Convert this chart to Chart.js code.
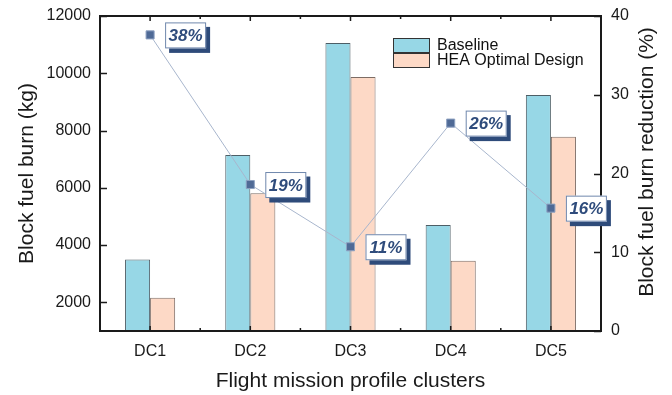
<!DOCTYPE html>
<html lang="en">
<head>
    <meta charset="UTF-8">
    <title>Block fuel burn by cluster</title>
    <script src="https://cdn.jsdelivr.net/npm/chart.js"></script>
    <style>
        body { margin: 0; background: #fff; }
        #wrap { width: 672px; height: 395px; }
    </style>
</head>
<body>
<div id="wrap"><canvas id="fuelChart" width="672" height="395"></canvas></div>

<script>
const clusters = ['DC1', 'DC2', 'DC3', 'DC4', 'DC5'];
const baseline = [3500, 7150, 11060, 4700, 9240];
const heaOptimal = [2160, 5810, 9870, 3450, 7780];
const reduction = [37.6, 18.6, 10.7, 26.4, 15.6];
const reductionLabels = ['38%', '19%', '11%', '26%', '16%'];
const fuelTicks = [2000, 4000, 6000, 8000, 10000, 12000];
const reductionTicks = [0, 10, 20, 30, 40];

const FONT = '"Liberation Sans", Arial, sans-serif';

// frame, inward ticks, right title, point labels and legend
const decor = {
    id: 'decor',
    afterDraw(chart) {
        const ctx = chart.ctx;
        const a = chart.chartArea;
        const x = chart.scales.x, y = chart.scales.y, y2 = chart.scales.y2;
        ctx.save();

        // ticks
        ctx.strokeStyle = '#1a1a1a';
        ctx.lineWidth = 1.5;
        ctx.beginPath();
        y.ticks.forEach(t => {
            const py = Math.round(y.getPixelForValue(t.value)) + 0.5;
            ctx.moveTo(a.left, py); ctx.lineTo(a.left + 7, py);
        });
        y2.ticks.forEach(t => {
            const py = Math.round(y2.getPixelForValue(t.value)) + 0.5;
            ctx.moveTo(a.right - 7, py); ctx.lineTo(a.right, py);
        });
        for (let i = 0; i < clusters.length; i++) {
            const px = x.getPixelForTick(i);
            ctx.moveTo(px, a.bottom); ctx.lineTo(px, a.bottom - 5);
            ctx.moveTo(px, a.top); ctx.lineTo(px, a.top + 5);
            if (i < clusters.length - 1) {
                const mx = (px + x.getPixelForTick(i + 1)) / 2;
                ctx.moveTo(mx, a.bottom); ctx.lineTo(mx, a.bottom - 3);
                ctx.moveTo(mx, a.top); ctx.lineTo(mx, a.top + 3);
            }
        }
        ctx.stroke();

        // frame
        ctx.lineWidth = 2;
        ctx.strokeRect(a.left, a.top, a.right - a.left, a.bottom - a.top);

        // right axis title (reads bottom to top)
        ctx.fillStyle = '#1a1a1a';
        ctx.font = '21px ' + FONT;
        ctx.textAlign = 'center';
        ctx.textBaseline = 'middle';
        ctx.translate(647, 162);
        ctx.rotate(-Math.PI / 2);
        ctx.fillText('Block fuel burn reduction (%)', 0, 0);
        ctx.setTransform(1, 0, 0, 1, 0, 0);

        // boxed percentage labels
        const meta = chart.getDatasetMeta(2);
        meta.data.forEach((pt, i) => {
            const w = 41, h = 26;
            const bx = pt.x + 15, by = pt.y - 12.5;
            ctx.fillStyle = '#2e4b7a';
            ctx.fillRect(bx + 4, by + 4.5, w, h);
            ctx.fillStyle = '#ffffff';
            ctx.fillRect(bx, by, w, h);
            ctx.strokeStyle = '#7088ad';
            ctx.lineWidth = 1;
            ctx.strokeRect(bx + 0.5, by + 0.5, w - 1, h - 1);
            ctx.fillStyle = '#2f4c7c';
            ctx.font = 'italic bold 17px ' + FONT;
            ctx.textAlign = 'center';
            ctx.textBaseline = 'middle';
            ctx.fillText(reductionLabels[i], bx + w / 2, by + h / 2 + 1);
        });

        // legend
        [0, 1].forEach(k => {
            const ds = chart.data.datasets[k];
            const ly = 38 + k * 15;
            ctx.fillStyle = ds.backgroundColor;
            ctx.fillRect(393, ly, 37, 15);
            ctx.strokeStyle = '#333';
            ctx.lineWidth = 1;
            ctx.strokeRect(393.5, ly + 0.5, 36, 14);
            ctx.fillStyle = '#111';
            ctx.font = '16px ' + FONT;
            ctx.textAlign = 'left';
            ctx.textBaseline = 'middle';
            ctx.fillText(ds.label, 437, ly + 8);
        });
        ctx.restore();
    }
};

const ctx = document.getElementById('fuelChart').getContext('2d');
new Chart(ctx, {
    data: {
        labels: clusters,
        datasets: [
            {
                type: 'bar',
                label: 'Baseline',
                data: baseline,
                backgroundColor: '#97d7e6',
                borderColor: '#4d5e66',
                borderWidth: 1,
                categoryPercentage: 0.5,
                barPercentage: 1.0,
                yAxisID: 'y',
                order: 2
            },
            {
                type: 'bar',
                label: 'HEA Optimal Design',
                data: heaOptimal,
                backgroundColor: '#fdd9c6',
                borderColor: '#7d6c64',
                borderWidth: 1,
                categoryPercentage: 0.5,
                barPercentage: 1.0,
                yAxisID: 'y',
                order: 2
            },
            {
                type: 'line',
                label: 'Reduction',
                data: reduction,
                borderColor: '#a8b6cd',
                borderWidth: 1,
                pointStyle: 'rect',
                pointRadius: 5.7,
                pointBackgroundColor: '#4f6a96',
                pointBorderColor: '#8ea2c2',
                pointBorderWidth: 1,
                yAxisID: 'y2',
                order: 1
            }
        ]
    },
    options: {
        responsive: false,
        animation: false,
        layout: { padding: { top: 16, left: 0, right: 0, bottom: 0 } },
        plugins: {
            legend: { display: false },
            tooltip: { enabled: false }
        },
        scales: {
            x: {
                grid: { display: false, drawTicks: false },
                border: { display: false },
                ticks: { color: '#1a1a1a', font: { family: FONT, size: 16 }, padding: 11 },
                title: {
                    display: true,
                    text: 'Flight mission profile clusters',
                    color: '#1a1a1a',
                    font: { family: FONT, size: 21, lineHeight: 1.2 },
                    padding: { top: 0, bottom: 1.5 }
                },
                afterFit(scale) {
                    scale.height = 64;
                    scale.paddingLeft = 0; scale.paddingRight = 0;
                }
            },
            y: {
                position: 'left',
                min: 1000,
                max: 12000,
                grid: { display: false, drawTicks: false },
                border: { display: false },
                ticks: {
                    color: '#1a1a1a',
                    font: { family: FONT, size: 16 },
                    padding: 9,
                    callback: v => String(v)
                },
                afterBuildTicks(scale) {
                    scale.ticks = fuelTicks.map(v => ({ value: v }));
                },
                title: {
                    display: true,
                    text: 'Block fuel burn (kg)',
                    color: '#1a1a1a',
                    font: { family: FONT, size: 21, lineHeight: 1.2 },
                    padding: { top: 15, bottom: 0 }
                },
                afterFit(scale) {
                    scale.width = 100;
                    scale.paddingTop = 0; scale.paddingBottom = 0;
                }
            },
            y2: {
                position: 'right',
                min: 0,
                max: 40,
                grid: { display: false, drawTicks: false },
                border: { display: false },
                ticks: {
                    color: '#1a1a1a',
                    font: { family: FONT, size: 16 },
                    padding: 10,
                    callback: v => String(v)
                },
                afterBuildTicks(scale) {
                    scale.ticks = reductionTicks.map(v => ({ value: v }));
                },
                afterFit(scale) {
                    scale.width = 71;
                    scale.paddingTop = 0; scale.paddingBottom = 0;
                }
            }
        }
    },
    plugins: [decor]
});
</script>
</body>
</html>
